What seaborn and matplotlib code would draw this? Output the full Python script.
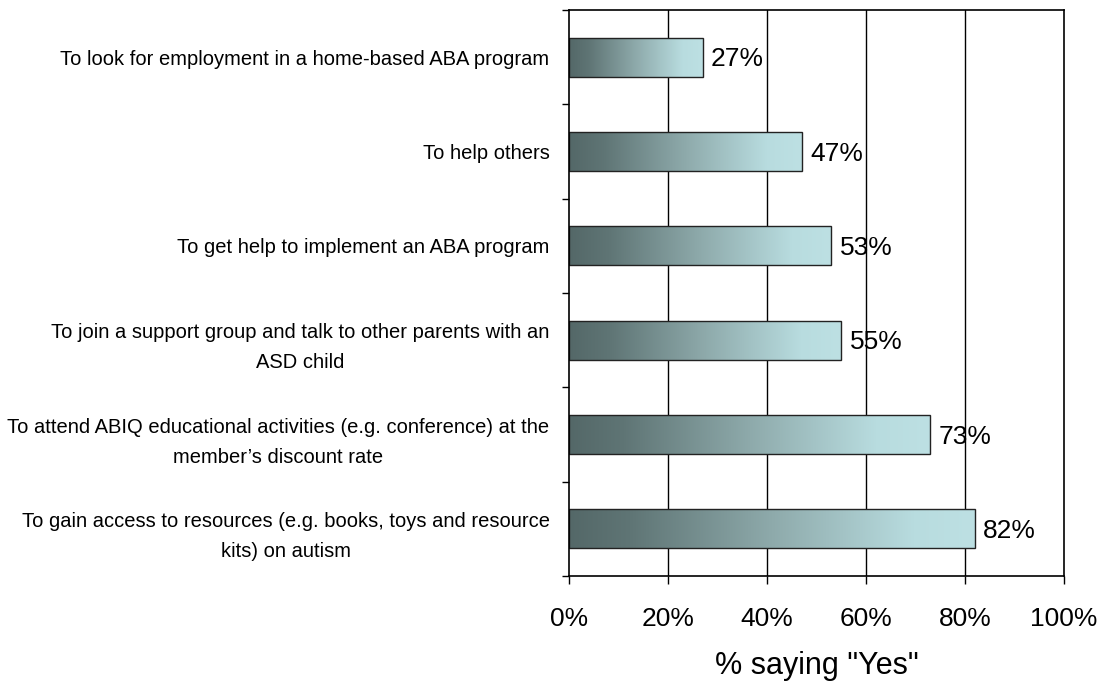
import numpy as np
import pandas as pd
import matplotlib
matplotlib.use("Agg")
import matplotlib.pyplot as plt
from matplotlib.colors import LinearSegmentedColormap
from matplotlib.ticker import FixedLocator
import seaborn as sns

# --------------------------------------------------------------
# Data
# --------------------------------------------------------------
reasons = [
    "To look for employment in a home-based ABA program",
    "To help others",
    "To get help to implement an ABA program",
    "To join a support group and talk to other parents with an\nASD child",
    "To attend ABIQ educational activities (e.g. conference) at the\nmember\u2019s discount rate",
    "To gain access to resources (e.g. books, toys and resource\nkits) on autism",
]
pct_yes = [27, 47, 53, 55, 73, 82]
x_ticks = [0, 20, 40, 60, 80, 100]
x_tick_labels = ["0%", "20%", "40%", "60%", "80%", "100%"]

df = pd.DataFrame({"reason": reasons, "pct": pct_yes})

# --------------------------------------------------------------
# Plot
# --------------------------------------------------------------
sns.set_style("white")
plt.rcParams["font.family"] = ["Liberation Sans", "DejaVu Sans"]
plt.rcParams["text.color"] = "black"
plt.rcParams["xtick.color"] = "black"
plt.rcParams["ytick.color"] = "black"
plt.rcParams["axes.labelcolor"] = "black"

fig = plt.figure(figsize=(11.06, 6.84), dpi=100)
ax = fig.add_axes([569 / 1106, 1 - 576 / 684, (1064 - 569) / 1106, (576 - 10) / 684])

sns.barplot(data=df, x="pct", y="reason", orient="h", width=0.41,
            color="#8fabac", edgecolor="#222222", linewidth=1.0, ax=ax)

# gradient fill, dark on the left to pale cyan on the right
grad = LinearSegmentedColormap.from_list(
    "bar_grad",
    [(0.0, "#546868"), (0.15, "#5f7575"), (0.5, "#8eaaab"),
     (0.85, "#b8dcdf"), (1.0, "#bde0e3")])
ax.set_xlim(0, 100)
ax.set_ylim(len(reasons) - 0.5, -0.5)
for p in ax.patches:
    x0, y0 = p.get_x(), p.get_y()
    w, h = p.get_width(), p.get_height()
    im = ax.imshow(np.linspace(0, 1, 256).reshape(1, -1), cmap=grad, aspect="auto",
                   extent=[x0, x0 + w, y0 + h, y0], zorder=p.get_zorder(),
                   interpolation="bilinear")
    im.set_clip_path(p)
    p.set_facecolor("none")
    p.set_zorder(p.get_zorder() + 0.5)
ax.set_xlim(0, 100)
ax.set_ylim(len(reasons) - 0.5, -0.5)

# value labels
for i, v in enumerate(pct_yes):
    ax.annotate(f"{v}%", (v, i), xytext=(6, -1.5), textcoords="offset points",
                va="center", ha="left", fontsize=19, color="black")

# gridlines and frame
for v in x_ticks[1:-1]:
    ax.axvline(v, color="black", linewidth=1.0, zorder=0.5)
for s in ax.spines.values():
    s.set_visible(True)
    s.set_color("black")
    s.set_linewidth(1.2)

ax.set_xticks(x_ticks)
ax.set_xticklabels(x_tick_labels, fontsize=19)
ax.tick_params(axis="x", direction="out", length=6, width=1.0, color="black", pad=16,
               bottom=True)

ax.yaxis.set_minor_locator(FixedLocator(np.arange(-0.5, len(reasons), 1.0)))
ax.tick_params(axis="y", which="major", length=0, pad=14)
ax.tick_params(axis="y", which="minor", direction="out", length=5, width=1.0,
               color="black", left=True)
for lbl in ax.get_yticklabels():
    lbl.set_fontsize(14.5)
    lbl.set_multialignment("center")
    lbl.set_linespacing(1.75)

ax.set_ylabel("")
ax.set_xlabel('% saying "Yes"', fontsize=22, labelpad=14.5)

plt.savefig("out.png", dpi=100)
